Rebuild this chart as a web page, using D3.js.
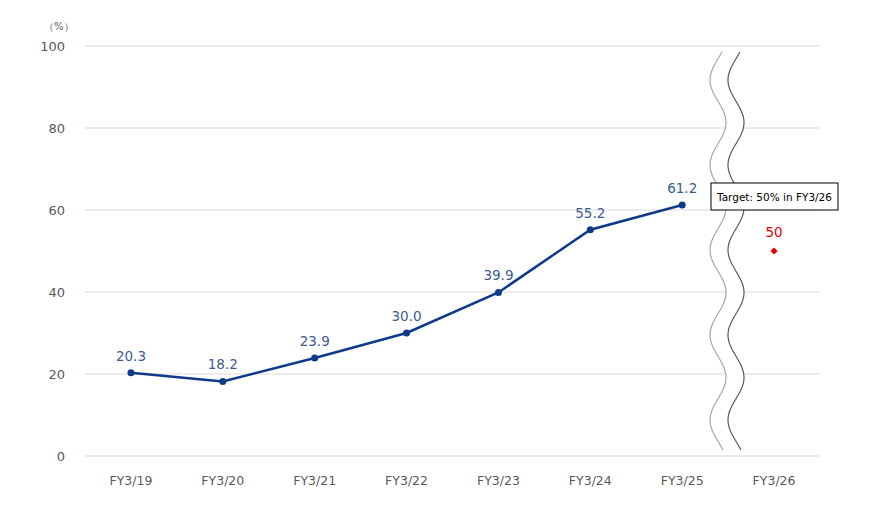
<!DOCTYPE html><html><head><meta charset="utf-8"><script src="https://cdn.jsdelivr.net/npm/d3@7"></script>
<style>body{margin:0;background:#fff}text{font-family:"DejaVu Sans",sans-serif}</style></head><body><svg id="c" width="877" height="530"></svg>
<script>
const categories=["FY3/19","FY3/20","FY3/21","FY3/22","FY3/23","FY3/24","FY3/25","FY3/26"];
const actual=[20.3,18.2,23.9,30.0,39.9,55.2,61.2];
const target=[{cat:"FY3/26",v:50}];
const yTicks=[0,20,40,60,80,100];
const svg=d3.select("#c");
const x=d3.scaleBand().domain(categories).range([85,820]);
const y=d3.scaleLinear().domain([0,100]).range([456,46]);
const cx=c=>x(c)+x.bandwidth()/2;
svg.append("g").selectAll("line").data(yTicks.slice(1)).join("line")
 .attr("x1",85).attr("x2",820).attr("y1",d=>y(d)).attr("y2",d=>y(d)).attr("stroke","#d9d9d9");
svg.append("line").attr("x1",85).attr("x2",820).attr("y1",y(0)).attr("y2",y(0)).attr("stroke","#d9d9d9");
svg.append("g").selectAll("text").data(yTicks).join("text").attr("x",65).attr("y",d=>y(d)+5)
 .attr("text-anchor","end").attr("font-size",13).attr("fill","#595959").text(d=>d);
svg.append("text").attr("x",44).attr("y",30).attr("font-size",10).attr("fill","#595959").text("（%）");
svg.append("g").selectAll("text").data(categories).join("text").attr("x",d=>cx(d)).attr("y",485)
 .attr("text-anchor","middle").attr("font-size",12.5).attr("fill","#595959").text(d=>d);
const ys=d3.range(52,452,2);
const wx=(yy,off)=>off+8*Math.sin((yy-80)/85*2*Math.PI-Math.PI/2);
const wl=d3.line().x(d=>d[0]).y(d=>d[1]);
const band=ys.map(v=>[wx(v,718),v]).concat(ys.slice().reverse().map(v=>[wx(v,736),v]));
svg.append("path").attr("d",wl(band)+"Z").attr("fill","#fff");
svg.append("path").attr("d",wl(ys.map(v=>[wx(v,718),v]))).attr("fill","none").attr("stroke","#a6a6a6").attr("stroke-width",1.2);
svg.append("path").attr("d",wl(ys.map(v=>[wx(v,736),v]))).attr("fill","none").attr("stroke","#595959").attr("stroke-width",1.2);
const pts=actual.map((v,i)=>({c:categories[i],v}));
svg.append("path").attr("d",d3.line().x(d=>cx(d.c)).y(d=>y(d.v))(pts)).attr("fill","none").attr("stroke","#0e3a8a").attr("stroke-width",2.5);
svg.append("g").selectAll("circle").data(pts).join("circle").attr("cx",d=>cx(d.c)).attr("cy",d=>y(d.v)).attr("r",3.5).attr("fill","#0e3a8a");
svg.append("g").selectAll("text").data(pts).join("text").attr("x",d=>cx(d.c)).attr("y",d=>y(d.v)-12)
 .attr("text-anchor","middle").attr("font-size",13.5).attr("fill","#3b5c91").text(d=>d.v.toFixed(1));
svg.append("g").selectAll("path").data(target).join("path").attr("d",d3.symbol(d3.symbolSquare,26))
 .attr("transform",d=>`translate(${cx(d.cat)},${y(d.v)}) rotate(45)`).attr("fill","#e00000");
svg.append("g").selectAll("text").data(target).join("text").attr("x",d=>cx(d.cat)).attr("y",d=>y(d.v)-14)
 .attr("text-anchor","middle").attr("font-size",13.5).attr("fill","#e00000").text(d=>d.v);
svg.append("rect").attr("x",711).attr("y",183).attr("width",127).attr("height",27).attr("fill","#fff").attr("stroke","#000");
svg.append("text").attr("x",774.5).attr("y",201).attr("text-anchor","middle").attr("font-size",10.5).attr("font-family","Liberation Sans").attr("fill","#000").text("Target: 50% in FY3/26");
</script></body></html>
